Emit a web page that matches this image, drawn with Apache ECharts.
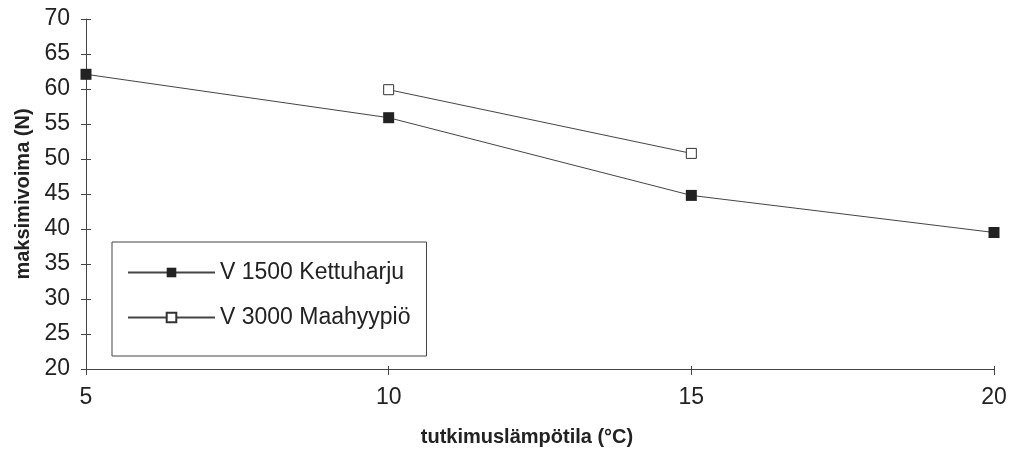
<!DOCTYPE html>
<html>
<head>
<meta charset="utf-8">
<script src="https://cdn.jsdelivr.net/npm/echarts@6/dist/echarts.min.js"></script>
<style>html,body{margin:0;padding:0;background:#fff}#c{width:1021px;height:452px}</style>
</head>
<body>
<div id="c"></div>
<script>
const xValues1 = [5, 10, 15, 20];
const yValues1 = [62.1, 55.9, 44.8, 39.5];
const xValues2 = [10, 15];
const yValues2 = [59.9, 50.8];
const seriesNames = ['V 1500 Kettuharju', 'V 3000 Maahyypiö'];
const xTitle = 'tutkimuslämpötila (°C)';
const yTitle = 'maksimivoima (N)';

const font = 'Liberation Sans, Arial, sans-serif';
const txt = '#222';
const chart = echarts.init(document.getElementById('c'));
const xBase = {type: 'value', min: 5, max: 20, interval: 5};
const yBase = {type: 'value', min: 20, max: 70, interval: 5};
chart.setOption({
  animation: false,
  backgroundColor: '#fff',
  grid: {left: 86, right: 27, top: 19, bottom: 83},
  legend: {
    orient: 'vertical', left: 112, top: 242,
    padding: [19, 16, 27, 15],
    itemWidth: 87, itemHeight: 12, itemGap: 22,
    borderColor: '#444', borderWidth: 1,
    textStyle: {fontFamily: font, fontSize: 23, color: txt, lineHeight: 20},
    data: seriesNames
  },
  xAxis: [
    Object.assign({}, xBase, {
      position: 'bottom',
      name: xTitle, nameLocation: 'middle', nameGap: 58,
      nameTextStyle: {fontFamily: font, fontSize: 20, fontWeight: 'bold', color: txt, padding: [0, 26, 0, 0]},
      axisLine: {show: true, lineStyle: {color: '#444', width: 1}},
      axisTick: {show: true, inside: false, length: 6, lineStyle: {color: '#444'}},
      axisLabel: {fontFamily: font, fontSize: 23, color: txt, margin: 17},
      splitLine: {show: false}
    }),
    Object.assign({}, xBase, {
      position: 'bottom',
      axisLine: {show: false},
      axisTick: {show: true, inside: true, length: 3, lineStyle: {color: '#444'}},
      axisLabel: {show: false},
      splitLine: {show: false}
    })
  ],
  yAxis: [
    Object.assign({}, yBase, {
      position: 'left',
      name: yTitle, nameLocation: 'middle', nameGap: 53,
      nameTextStyle: {fontFamily: font, fontSize: 20, fontWeight: 'bold', color: txt},
      axisLine: {show: true, lineStyle: {color: '#444', width: 1}},
      axisTick: {show: true, inside: false, length: 5, lineStyle: {color: '#444'}},
      axisLabel: {fontFamily: font, fontSize: 23, color: txt, margin: 16},
      splitLine: {show: false}
    }),
    Object.assign({}, yBase, {
      position: 'left',
      axisLine: {show: false},
      axisTick: {show: true, inside: true, length: 5, lineStyle: {color: '#444'}},
      axisLabel: {show: false},
      splitLine: {show: false}
    })
  ],
  series: [
    {
      name: seriesNames[0], type: 'line',
      xAxisIndex: 0, yAxisIndex: 0,
      data: xValues1.map((x, i) => [x, yValues1[i]]),
      symbol: 'rect', symbolSize: 11,
      lineStyle: {color: '#444', width: 1},
      itemStyle: {color: '#222', borderColor: '#222', borderWidth: 0},
      z: 3
    },
    {
      name: seriesNames[1], type: 'line',
      xAxisIndex: 0, yAxisIndex: 0,
      data: xValues2.map((x, i) => [x, yValues2[i]]),
      symbol: 'rect', symbolSize: 10,
      lineStyle: {color: '#444', width: 1},
      itemStyle: {color: '#fff', borderColor: '#333', borderWidth: 1},
      z: 3
    }
  ]
});
</script>
</body>
</html>
